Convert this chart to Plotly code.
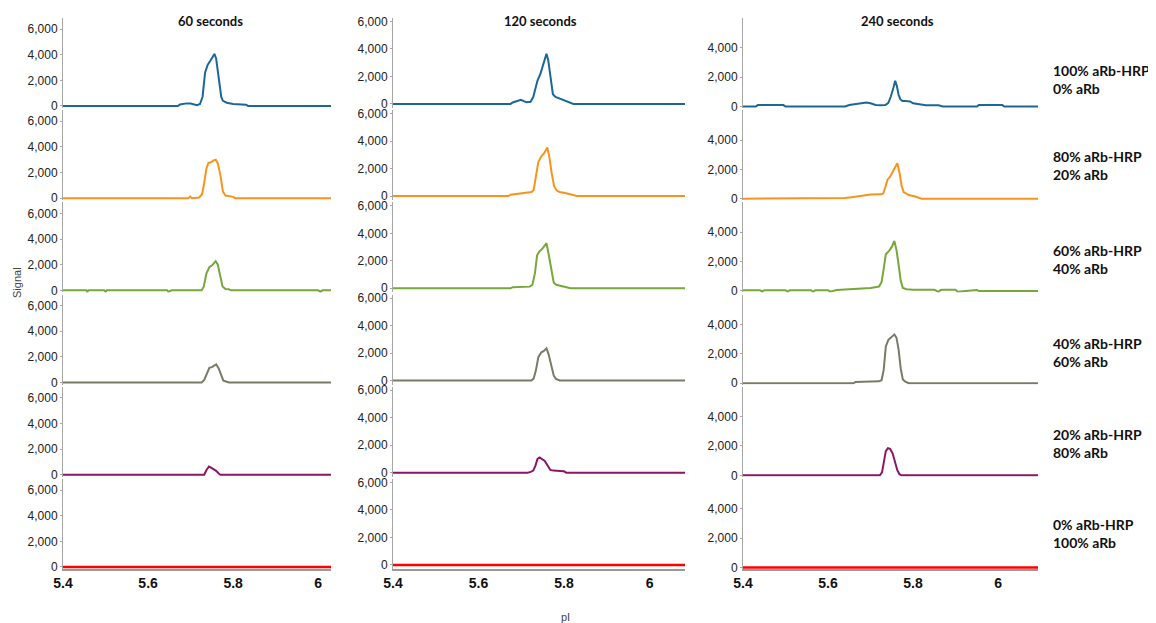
import plotly.graph_objects as go

# column / row labels
times = ["60 seconds", "120 seconds", "240 seconds"]
mixes = ["100% aRb-HRP<br>0% aRb", "80% aRb-HRP<br>20% aRb", "60% aRb-HRP<br>40% aRb",
         "40% aRb-HRP<br>60% aRb", "20% aRb-HRP<br>80% aRb", "0% aRb-HRP<br>100% aRb"]
colors = ["#1b6898", "#f7931e", "#76a83a", "#7a7a68", "#8c1664", "#ff0000"]

# ---- 60 seconds ----
pi_60_100 = [5.40, 5.67, 5.675, 5.69, 5.70, 5.71, 5.715, 5.722, 5.728, 5.734, 5.740, 5.746, 5.752, 5.756, 5.760, 5.766, 5.772, 5.776, 5.785, 5.80, 5.81, 5.83, 5.835, 6.10]
sig_60_100 = [0, 0, 120, 200, 190, 80, 60, 150, 700, 2600, 3200, 3500, 3800, 4060, 3700, 2300, 700, 400, 250, 150, 150, 100, 0, 0]
pi_60_80 = [5.40, 5.695, 5.699, 5.703, 5.72, 5.727, 5.732, 5.737, 5.742, 5.748, 5.754, 5.759, 5.764, 5.770, 5.776, 5.782, 5.80, 5.805, 6.10]
sig_60_80 = [0, 0, 120, 0, 50, 300, 1200, 2300, 2750, 2800, 2950, 3000, 2700, 1800, 500, 200, 100, 0, 0]
pi_60_60 = [5.40, 5.455, 5.457, 5.46, 5.497, 5.5, 5.503, 5.645, 5.648, 5.652, 5.655, 5.726, 5.731, 5.737, 5.744, 5.752, 5.759, 5.764, 5.769, 5.775, 5.782, 5.79, 5.795, 6.0, 6.005, 6.01, 6.10]
sig_60_60 = [0, 0, -120, 0, 0, -120, 0, 0, -120, -60, 0, 0, 300, 1300, 1800, 2000, 2280, 2000, 1200, 300, 100, 80, 0, 0, -120, 0, 0]
pi_60_40 = [5.40, 5.726, 5.732, 5.738, 5.744, 5.750, 5.756, 5.760, 5.766, 5.771, 5.777, 5.785, 5.79, 6.10]
sig_60_40 = [0, 0, 200, 750, 1150, 1200, 1350, 1420, 1100, 600, 150, 60, 0, 0]
pi_60_20 = [5.40, 5.732, 5.737, 5.743, 5.748, 5.754, 5.760, 5.766, 5.770, 6.10]
sig_60_20 = [0, 0, 350, 640, 550, 450, 300, 100, 0, 0]
pi_60_0 = [5.40, 6.10]
sig_60_0 = [0, 0]

# ---- 120 seconds ----
pi_120_100 = [5.40, 5.675, 5.68, 5.69, 5.699, 5.706, 5.712, 5.722, 5.728, 5.733, 5.738, 5.745, 5.752, 5.759, 5.763, 5.768, 5.774, 5.780, 5.79, 5.80, 5.812, 5.822, 6.10]
sig_120_100 = [0, 0, 100, 180, 300, 200, 120, 150, 500, 1100, 1700, 2200, 2900, 3650, 3200, 2000, 700, 500, 380, 300, 150, 0, 0]
pi_120_80 = [5.40, 5.67, 5.675, 5.69, 5.70, 5.715, 5.724, 5.729, 5.734, 5.740, 5.747, 5.754, 5.761, 5.766, 5.771, 5.777, 5.783, 5.79, 5.805, 5.82, 5.83, 6.10]
sig_120_80 = [0, 0, 100, 150, 230, 250, 300, 450, 1300, 2500, 2900, 3150, 3530, 2800, 1700, 700, 400, 300, 200, 100, 0, 0]
pi_120_60 = [5.40, 5.675, 5.68, 5.72, 5.726, 5.732, 5.737, 5.743, 5.750, 5.755, 5.759, 5.764, 5.770, 5.776, 5.782, 5.795, 5.81, 5.815, 6.10]
sig_120_60 = [0, 0, 80, 120, 250, 1100, 2400, 2700, 2900, 3100, 3280, 2500, 1300, 400, 250, 150, 80, 0, 0]
pi_120_40 = [5.40, 5.724, 5.729, 5.734, 5.740, 5.747, 5.753, 5.759, 5.764, 5.770, 5.776, 5.781, 5.79, 6.10]
sig_120_40 = [0, 0, 150, 700, 1700, 2050, 2150, 2340, 1900, 1000, 350, 120, 0, 0]
pi_120_20 = [5.40, 5.715, 5.722, 5.728, 5.733, 5.738, 5.743, 5.749, 5.755, 5.762, 5.768, 5.775, 5.79, 5.80, 5.805, 6.10]
sig_120_20 = [0, 0, 60, 150, 500, 1000, 1110, 1000, 850, 500, 200, 150, 120, 100, 0, 0]
pi_120_0 = [5.40, 6.10]
sig_120_0 = [0, 0]

# ---- 240 seconds ----
pi_240_100 = [5.40, 5.43, 5.435, 5.495, 5.50, 5.64, 5.65, 5.665, 5.68, 5.69, 5.70, 5.712, 5.725, 5.735, 5.742, 5.748, 5.754, 5.758, 5.762, 5.766, 5.770, 5.775, 5.782, 5.793, 5.80, 5.815, 5.83, 5.86, 5.87, 5.95, 5.955, 6.01, 6.015, 6.10]
sig_240_100 = [0, 0, 100, 100, 0, 0, 100, 150, 230, 280, 220, 100, 80, 100, 250, 700, 1300, 1750, 1400, 800, 500, 380, 380, 350, 220, 150, 80, 80, 0, 0, 100, 100, 0, 0]
pi_240_80 = [5.40, 5.63, 5.64, 5.66, 5.68, 5.70, 5.725, 5.730, 5.735, 5.740, 5.746, 5.752, 5.758, 5.763, 5.768, 5.773, 5.778, 5.783, 5.79, 5.805, 5.815, 5.82, 6.10]
sig_240_80 = [0, 0, 50, 120, 200, 280, 300, 350, 800, 1300, 1500, 1800, 2200, 2420, 1800, 900, 450, 350, 250, 150, 50, 0, 0]
pi_240_60 = [5.40, 5.44, 5.445, 5.45, 5.50, 5.505, 5.51, 5.56, 5.565, 5.57, 5.60, 5.605, 5.62, 5.66, 5.70, 5.72, 5.726, 5.731, 5.736, 5.744, 5.750, 5.756, 5.761, 5.766, 5.771, 5.776, 5.785, 5.80, 5.85, 5.86, 5.865, 5.87, 5.90, 5.905, 5.95, 5.955, 6.10]
sig_240_60 = [50, 50, -50, 50, 50, -50, 50, 50, -60, 50, 50, -50, 60, 130, 200, 300, 600, 1500, 2500, 2750, 3000, 3400, 2800, 1800, 700, 200, 120, 80, 80, -60, 60, 80, 80, -50, 60, 0, 0]
pi_240_40 = [5.40, 5.66, 5.665, 5.72, 5.726, 5.731, 5.736, 5.742, 5.748, 5.752, 5.756, 5.761, 5.766, 5.771, 5.776, 5.782, 5.79, 6.10]
sig_240_40 = [0, 0, 80, 120, 200, 900, 2500, 2950, 3100, 3200, 3310, 3100, 2300, 1000, 250, 100, 0, 0]
pi_240_20 = [5.40, 5.722, 5.727, 5.731, 5.736, 5.741, 5.746, 5.752, 5.758, 5.763, 5.768, 5.773, 6.10]
sig_240_20 = [0, 0, 200, 900, 1650, 1850, 1800, 1500, 900, 350, 80, 0, 0]
pi_240_0 = [5.40, 6.10]
sig_240_0 = [0, 0]

series = [
    [(pi_60_100, sig_60_100), (pi_120_100, sig_120_100), (pi_240_100, sig_240_100)],
    [(pi_60_80, sig_60_80), (pi_120_80, sig_120_80), (pi_240_80, sig_240_80)],
    [(pi_60_60, sig_60_60), (pi_120_60, sig_120_60), (pi_240_60, sig_240_60)],
    [(pi_60_40, sig_60_40), (pi_120_40, sig_120_40), (pi_240_40, sig_240_40)],
    [(pi_60_20, sig_60_20), (pi_120_20, sig_120_20), (pi_240_20, sig_240_20)],
    [(pi_60_0, sig_60_0), (pi_120_0, sig_120_0), (pi_240_0, sig_240_0)],
]

# page body adds an 8px margin, so the figure is 8px smaller and positions shift by 8
OFF = 8
W, H = 1156 - OFF, 623 - OFF


def px(x):
    return (x - OFF) / W


def py(y):
    return 1 - (y - OFF) / H


col_px = [(63, 331), (393, 685), (743, 1038)]
x_ranges = [[5.4, 6.03], [5.4, 6.083], [5.4, 6.094]]
y_ranges = [[-160, 6860], [-300, 6250], [-100, 6030]]
y_ticks = [[0, 2000, 4000, 6000], [0, 2000, 4000, 6000], [0, 2000, 4000]]
row_top = 18
row_step = 92.2
row_h = 90

fig = go.Figure()
layout = {}
for r in range(6):
    top = row_top + row_step * r
    ydom = [py(top + row_h), py(top)]
    for c in range(3):
        n = r * 3 + c + 1
        xs, ys = series[r][c]
        sfx = "" if n == 1 else str(n)
        fig.add_trace(go.Scatter(x=xs, y=ys, mode="lines",
                                 line=dict(color=colors[r], width=2.5 if r == 5 else 2),
                                 xaxis="x" + sfx, yaxis="y" + sfx, hoverinfo="skip"))
        bottom = r == 5
        layout["xaxis" + sfx] = dict(
            domain=[px(col_px[c][0]), px(col_px[c][1])], anchor="y" + sfx,
            range=x_ranges[c], showgrid=False, zeroline=False, automargin=False,
            showline=bottom, linecolor="#9a9a9a", linewidth=2,
            showticklabels=bottom, ticks="", dtick=0.2, tick0=5.4,
            tickfont=dict(family="Liberation Sans, Arial", size=14,
                          color="#111111", weight="bold"))
        layout["yaxis" + sfx] = dict(
            domain=ydom, anchor="x" + sfx, range=y_ranges[c], automargin=False,
            tickvals=y_ticks[c], tickformat=",d",
            showgrid=False, zeroline=False, showline=True,
            linecolor="#a6a6a6", linewidth=1, ticks="outside", ticklen=2,
            tickcolor="#a6a6a6",
            tickfont=dict(family="Liberation Sans, Arial", size=12, color="#222222"))

ann = []
title_x = [210, 540, 897]
for c, t in enumerate(times):
    ann.append(dict(text=t, x=px(title_x[c]), y=py(21), xref="paper", yref="paper",
                    xanchor="center", yanchor="middle", showarrow=False,
                    font=dict(family="Lato, Open Sans", size=13, color="#111111", weight="bold")))
label_y = [79, 166, 259, 352, 443, 533]
for r, m in enumerate(mixes):
    ann.append(dict(text=m, x=px(1051), y=py(label_y[r]), xref="paper", yref="paper",
                    xanchor="left", yanchor="middle", align="left", showarrow=False,
                    font=dict(family="Lato, Open Sans", size=14, color="#111111", weight="bold")))
ann.append(dict(text="Signal", x=px(17), y=py(283), xref="paper", yref="paper",
                xanchor="center", yanchor="middle", textangle=-90, showarrow=False,
                font=dict(family="Liberation Sans, Arial", size=11, color="#444444")))
ann.append(dict(text="pI", x=px(565), y=py(617), xref="paper", yref="paper",
                xanchor="center", yanchor="middle", showarrow=False,
                font=dict(family="Liberation Sans, Arial", size=11, color="#444444")))

fig.update_layout(**layout)
fig.update_layout(width=W, height=H, margin=dict(l=0, r=0, t=0, b=0),
                  plot_bgcolor="white", paper_bgcolor="white",
                  showlegend=False, annotations=ann)
fig.write_html("out.html")
